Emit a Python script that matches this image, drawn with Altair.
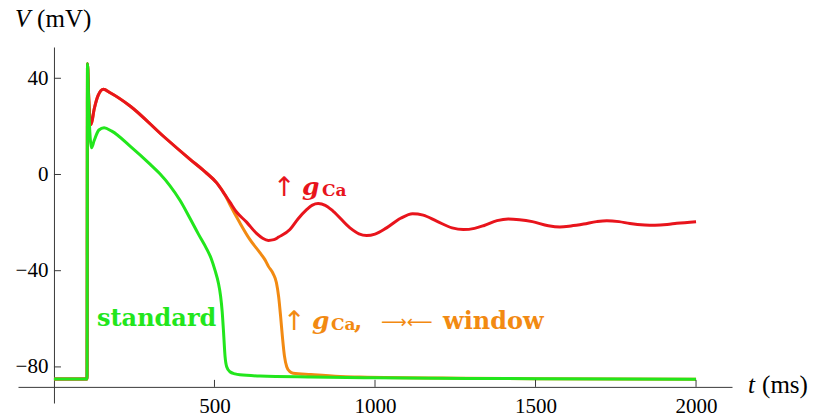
import altair as alt
import pandas as pd

# ---- membrane potential traces (t in ms, V in mV) ----
standard_t = [0, 103, 104.5, 108, 113, 117, 125, 140, 156, 180, 237, 300, 330, 361, 393, 424, 450, 476, 490,
              502, 512, 519, 524, 528, 533, 538, 548, 564, 579, 642, 800, 1000, 1500, 2000]
standard_v = [-85, -85, 46, 30, 15, 11.1, 14, 18.5, 19.4, 18, 11.8, 4.2, 0.3, -4.6, -10.8, -18.3, -24.8, -31, -35,
              -40, -45, -50.5, -57, -65, -75.7, -79.9, -82, -82.9, -83.3, -83.8, -84.2, -84.5, -84.9, -85.1]

high_gca_t = [0, 103, 104.5, 108, 113, 116, 125, 138, 154, 175, 237, 340, 424, 470, 507, 533, 548, 568, 600,
              631, 650, 668, 685, 700, 735, 760, 787, 805, 823, 845, 870, 922, 950, 974, 1000, 1036, 1080, 1117,
              1150, 1192, 1240, 1275, 1310, 1340, 1380, 1415, 1450, 1490, 1540, 1576, 1610, 1650, 1690, 1722,
              1760, 1794, 1840, 1872, 1910, 1940, 2000]
high_gca_v = [-85, -85, 46, 33, 22, 20.8, 27, 33, 35.4, 34, 28.5, 16, 6.3, 1.2, -3.5, -8.5, -11.5, -15.5, -19.8,
              -24.5, -26.5, -27.4, -27.1, -26, -22.9, -18.5, -14.6, -12.7, -12.1, -12.8, -15.3, -22.2, -24.7, -25.4,
              -24.8, -22.2, -18.2, -16.3, -16.9, -19.4, -22.2, -22.9, -22.4, -21.2, -19.2, -18.5, -18.8, -19.6,
              -21.3, -21.8, -21.4, -20.6, -19.6, -19.2, -19.6, -20.4, -21, -21.1, -20.8, -20.3, -19.6]

# shares the upstroke and plateau with the high-gCa trace up to 533 ms
window_branch_t = [548, 579, 610, 642, 657, 668, 683, 693, 700, 706, 712, 718, 725, 735, 745, 800, 891, 953, 1265,
                   1500, 2000]
window_branch_v = [-12.5, -20.1, -27, -32.6, -35.4, -38.2, -41.3, -45, -51, -59, -68, -75.5, -79.9, -82, -82.6,
                   -83.2, -84, -84.2, -84.7, -84.9, -85.1]
split = high_gca_t.index(533) + 1
window_t = high_gca_t[:split] + window_branch_t
window_v = high_gca_v[:split] + window_branch_v

x_ticks = [500, 1000, 1500, 2000]
y_ticks = [-80, -40, 0, 40]

RED = "#e8141c"
GREEN = "#22e61c"
ORANGE = "#f28a12"
AXIS = "#3a3a3a"
SERIF = "Liberation Serif"
BOLD_SERIF = "DejaVu Serif"
ARROWS = "DejaVu Sans"

X_MIN, X_MAX = -112, 2112
Y_MIN, Y_MAX = -95, 53
AXIS_V = -88.3          # the time axis crosses the V axis here
W, H = 714, 356

x_scale = alt.Scale(domain=[X_MIN, X_MAX], nice=False, zero=False)
y_scale = alt.Scale(domain=[Y_MIN, Y_MAX], nice=False, zero=False)

x_axis = alt.Axis(values=x_ticks, orient="bottom", ticks=False, grid=False, title=None, format="d",
                  offset=-H * (AXIS_V - Y_MIN) / (Y_MAX - Y_MIN),
                  domainColor=AXIS, domainWidth=1, labelFont=SERIF, labelFontSize=21,
                  labelColor="black", labelPadding=9)
y_axis = alt.Axis(values=y_ticks, orient="left", ticks=False, grid=False, title=None,
                  offset=-W * (0 - X_MIN) / (X_MAX - X_MIN),
                  domainColor=AXIS, domainWidth=1, labelFont=SERIF, labelFontSize=21,
                  labelColor="black", labelPadding=6)


def trace(ts, vs, color):
    df = pd.DataFrame({"t": ts, "V": vs})
    return alt.Chart(df).mark_line(color=color, strokeWidth=3, interpolate="monotone").encode(
        x=alt.X("t:Q", scale=x_scale, axis=x_axis),
        y=alt.Y("V:Q", scale=y_scale, axis=y_axis),
    )


one = pd.DataFrame({"_": [0]})


def label(text, t, v, color, size, font=BOLD_SERIF, weight="bold", style="normal", dx=0, dy=0):
    return alt.Chart(one).mark_text(
        text=text, align="left", baseline="alphabetic", font=font, fontSize=size,
        fontWeight=weight, fontStyle=style, color=color, dx=dx, dy=dy,
    ).encode(x=alt.datum(t, scale=x_scale), y=alt.datum(v, scale=y_scale))


x_tick_marks = alt.Chart(pd.DataFrame({"t": x_ticks})).mark_rule(color=AXIS, strokeWidth=1, y2Offset=-7).encode(
    x=alt.X("t:Q", scale=x_scale), y=alt.datum(AXIS_V), y2=alt.datum(AXIS_V))
y_tick_marks = alt.Chart(pd.DataFrame({"V": y_ticks})).mark_rule(color=AXIS, strokeWidth=1, x2Offset=7).encode(
    y=alt.Y("V:Q", scale=y_scale), x=alt.datum(0), x2=alt.datum(0))

layers = [
    trace(window_t, window_v, ORANGE),
    trace(high_gca_t, high_gca_v, RED),
    trace(standard_t, standard_v, GREEN),
    x_tick_marks,
    y_tick_marks,
    # axis titles
    label("V", -121, 61.3, "black", 25, font=SERIF, weight="normal", style="italic"),
    label("(mV)", -121, 61.3, "black", 25, font=SERIF, weight="normal", dx=22),
    label("t", 2162, -90.8, "black", 25, font=SERIF, weight="normal", style="italic"),
    label("(ms)", 2162, -90.8, "black", 25, font=SERIF, weight="normal", dx=14),
    # curve annotations
    label("standard", 134, -63, GREEN, 24),
    label("↑", 698, -8.5, RED, 27, font=ARROWS, weight="normal", dx=-5, dy=1),
    label("g", 698, -8.5, RED, 25, style="italic", dx=24),
    label("Ca", 698, -8.5, RED, 17, dx=44, dy=1),
    label("↑", 729, -64.2, ORANGE, 27, font=ARROWS, weight="normal", dx=-5, dy=1),
    label("g", 729, -64.2, ORANGE, 25, style="italic", dx=24),
    label("Ca", 729, -64.2, ORANGE, 17, dx=43, dy=1),
    label(",", 729, -64.2, ORANGE, 24, dx=66),
    label("⟶⟵", 729, -64.2, ORANGE, 18, font=ARROWS, weight="normal", dx=93, dy=-1),
    label("window", 729, -64.2, ORANGE, 24, dx=155),
]

chart = alt.layer(*layers).properties(
    width=W, height=H,
    autosize=alt.AutoSizeParams(type="none"),
    padding={"left": 18, "top": 47, "right": 81, "bottom": 14},
).configure_view(stroke=None)

chart.save("out.html", embed_options={"renderer": "svg", "actions": False})
